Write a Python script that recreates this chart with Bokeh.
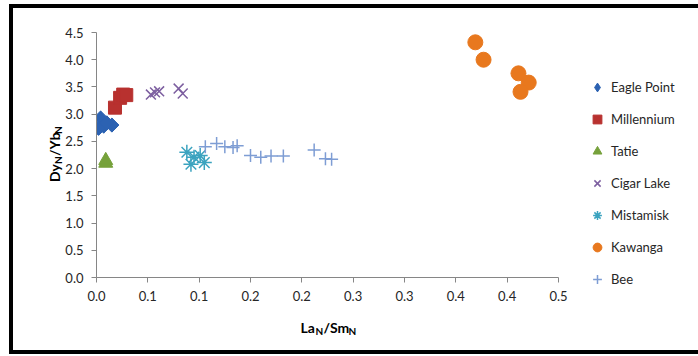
import numpy as np
from bokeh.plotting import figure
from bokeh.models import FixedTicker, Legend, LegendItem, Label, Range1d
from bokeh.embed import file_html
from bokeh.resources import INLINE

# ---- data ----
x_ticks = [0.0, 0.05, 0.1, 0.15, 0.2, 0.25, 0.3, 0.35, 0.4, 0.45]
x_tick_labels = ["0.0", "0.1", "0.1", "0.2", "0.2", "0.3", "0.3", "0.4", "0.4", "0.5"]
y_ticks = [0.0, 0.5, 1.0, 1.5, 2.0, 2.5, 3.0, 3.5, 4.0, 4.5]
y_tick_labels = ["0.0", "0.5", "1.0", "1.5", "2.0", "2.5", "3.0", "3.5", "4.0", "4.5"]

eagle_x = [0.004, 0.007, 0.002, 0.015, 0.010]
eagle_y = [2.93, 2.78, 2.74, 2.80, 2.84]

mill_x = [0.018, 0.023, 0.026, 0.029]
mill_y = [3.12, 3.30, 3.36, 3.35]

tatie_x = [0.009, 0.009]
tatie_y = [2.10, 2.15]

cigar_x = [0.053, 0.057, 0.061, 0.080, 0.084]
cigar_y = [3.36, 3.40, 3.42, 3.47, 3.38]

mist_x = [0.088, 0.095, 0.101, 0.092, 0.105]
mist_y = [2.30, 2.21, 2.24, 2.08, 2.11]

kaw_x = [0.369, 0.377, 0.411, 0.421, 0.413]
kaw_y = [4.32, 4.00, 3.75, 3.58, 3.41]

bee_x = [0.106, 0.117, 0.125, 0.133, 0.137, 0.150, 0.160, 0.170, 0.182, 0.212, 0.223, 0.229]
bee_y = [2.40, 2.46, 2.40, 2.39, 2.42, 2.24, 2.21, 2.23, 2.23, 2.34, 2.18, 2.17]

names = ["Eagle Point", "Millennium", "Tatie", "Cigar Lake", "Mistamisk", "Kawanga", "Bee"]

FONT = "Lato"
TXT = "#262626"

p = figure(frame_width=462, frame_height=245,
           min_border_left=83, min_border_right=136, min_border_top=24, min_border_bottom=73,
           x_range=Range1d(0, 0.45), y_range=Range1d(0, 4.5),
           output_backend="svg", toolbar_location=None,
           styles={"border": "4px solid black", "position": "absolute",
                   "left": "9px", "top": "4px", "margin": "0px"})
p.background_fill_color = "white"
p.border_fill_color = "white"
p.outline_line_color = None
p.xgrid.visible = False
p.ygrid.visible = False

for ax in (p.xaxis[0], p.yaxis[0]):
    ax.axis_line_color = "#868686"
    ax.major_tick_line_color = "#868686"
    ax.major_tick_out = 5
    ax.major_tick_in = 0
    ax.minor_tick_out = 0
    ax.minor_tick_in = 0
    ax.major_label_text_font = FONT
    ax.major_label_text_font_size = "13px"
    ax.major_label_text_color = TXT
    ax.major_label_standoff = 8

p.xaxis.ticker = FixedTicker(ticks=x_ticks)
p.xaxis.major_label_overrides = dict(zip(x_ticks, x_tick_labels))
p.yaxis.ticker = FixedTicker(ticks=y_ticks)
p.yaxis.major_label_overrides = dict(zip(y_ticks, y_tick_labels))

# diamond (legend glyph) hidden beneath rotated squares
r_eagle_leg = p.scatter(eagle_x, eagle_y, marker="diamond", size=13,
                        fill_color="#2C62B2", line_color="#2C62B2")
r_eagle = p.scatter(eagle_x, eagle_y, marker="square", angle=np.pi / 4, size=10,
                    fill_color="#2C62B2", line_color="#2C62B2")
r_mill = p.scatter(mill_x, mill_y, marker="square", size=13,
                   fill_color="#B8312F", line_color="#B8312F")
r_tatie = p.scatter(tatie_x, tatie_y, marker="triangle", size=14,
                    fill_color="#76A13B", line_color="#76A13B")
r_cigar = p.scatter(cigar_x, cigar_y, marker="x", size=14, line_width=1.5,
                    line_color="#7D5FA0")
r_mist = p.scatter(mist_x, mist_y, marker="asterisk", size=15, line_width=1.5,
                   line_color="#3BA3BF")
r_kaw = p.scatter(kaw_x, kaw_y, marker="circle", size=15,
                  fill_color="#E8781E", line_color="#E8781E")
r_bee = p.scatter(bee_x, bee_y, marker="cross", size=13, line_width=1.5,
                  line_color="#7E9DD4")

rends = [r_eagle_leg, r_mill, r_tatie, r_cigar, r_mist, r_kaw, r_bee]
legend = Legend(items=[LegendItem(label=n, renderers=[r]) for n, r in zip(names, rends)],
                location=(28, -13), border_line_color=None, background_fill_alpha=0,
                label_text_font=FONT, label_text_font_size="13px", label_text_color=TXT,
                glyph_width=22, glyph_height=22, label_height=22, spacing=10,
                padding=5, margin=0, label_standoff=3)
p.add_layout(legend, "right")

# axis titles with subscripts (pieces spread over side panels so that
# no panel grows past its min_border)
def lab(place, x, y, text, xo, yo, size, angle=0):
    p.add_layout(Label(x=x, y=y, text=text, x_offset=xo, y_offset=yo, angle=angle,
                       text_font=FONT, text_font_size=size, text_font_style="bold",
                       text_color="black", text_baseline="alphabetic", text_align="left"),
                 place)

cx = 0.225
lab("below", cx, 0, "La", -27, -50, "14px")
lab("above", cx, 0, "N", -12, -53, "10px")
lab("below", cx, 0, "/Sm", -4, -50, "14px")
lab("right", cx, 0, "N", 21, -53, "10px")

cy = 2.25
lab("left", 0, cy, "Dy", -42, -27, "14px", np.pi / 2)
lab("left", 0, cy, "N", -39, -9, "10px", np.pi / 2)
lab("left", 0, cy, "/Yb", -42, -1, "14px", np.pi / 2)
lab("above", 0, cy, "N", -39, 21, "10px", np.pi / 2)

open("out.html", "w").write(file_html(p, INLINE))
